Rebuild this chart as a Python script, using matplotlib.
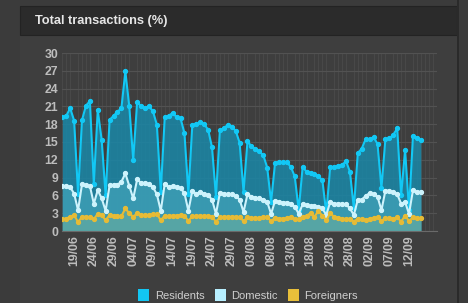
import numpy as np
import matplotlib
matplotlib.use("Agg")
import matplotlib.pyplot as plt
from matplotlib.patches import Rectangle

# daily shares, 16/06 .. 15/09
residents = [19.2, 19.4, 20.7, 18.6, 6.3, 18.7, 21.1, 21.9, 8.0, 20.4,
             15.3, 6.0, 18.7, 19.4, 20.1, 20.7, 26.9, 21.0, 12.0, 21.8,
             21.0, 20.7, 21.0, 20.2, 17.9, 6.6, 19.2, 19.4, 19.9, 19.2,
             19.0, 16.5, 6.3, 17.9, 18.0, 18.3, 18.0, 17.1, 14.1, 5.8,
             17.0, 17.3, 17.9, 17.6, 16.9, 14.9, 6.6, 15.1, 14.3, 13.8,
             13.4, 12.8, 10.7, 4.9, 11.5, 11.6, 11.6, 11.6, 10.8, 9.2,
             3.5, 10.8, 10.0, 9.8, 9.6, 9.2, 8.6, 3.0, 10.8, 10.8,
             11.0, 11.1, 11.8, 10.0, 3.8, 13.1, 13.9, 15.5, 15.5, 15.8,
             14.7, 7.2, 15.5, 15.6, 16.2, 17.3, 6.0, 13.7, 3.5, 16.0,
             15.7, 15.3]
domestic = [7.6, 7.6, 7.4, 6.3, 3.5, 7.9, 7.7, 7.6, 4.6, 6.9,
            5.5, 3.4, 7.7, 7.8, 7.8, 8.3, 9.7, 7.6, 5.5, 8.7,
            8.1, 8.1, 7.9, 7.4, 6.2, 3.4, 8.0, 7.4, 7.6, 7.4,
            7.2, 6.4, 3.4, 6.8, 6.2, 6.6, 6.3, 6.0, 5.3, 2.9,
            6.4, 6.3, 6.2, 6.2, 5.9, 5.3, 3.2, 6.2, 5.8, 5.6,
            5.5, 5.3, 4.9, 2.9, 5.1, 4.9, 4.8, 4.8, 4.6, 4.1,
            2.9, 4.5, 4.3, 4.2, 4.2, 4.1, 3.8, 2.7, 4.9, 4.6,
            4.6, 4.6, 4.5, 3.8, 2.7, 5.3, 5.3, 5.9, 6.4, 6.2,
            5.8, 3.5, 6.8, 6.8, 6.6, 6.2, 4.6, 4.9, 2.9, 6.9,
            6.6, 6.6]
foreigners = [2.0, 2.1, 2.4, 2.7, 1.5, 2.4, 2.4, 2.3, 2.0, 2.9,
              2.7, 1.8, 2.7, 2.5, 2.5, 2.5, 3.8, 3.0, 2.4, 3.0,
              2.7, 2.7, 2.7, 2.8, 2.9, 1.8, 2.6, 2.5, 2.6, 2.6,
              2.7, 2.6, 1.7, 2.5, 2.5, 2.6, 2.5, 2.6, 2.4, 1.6,
              2.3, 2.4, 2.4, 2.4, 2.4, 2.3, 1.7, 2.3, 2.2, 2.2,
              2.2, 2.3, 2.3, 1.7, 2.2, 2.1, 2.1, 2.2, 2.3, 2.0,
              2.0, 2.4, 2.6, 3.0, 2.4, 3.4, 2.6, 1.8, 3.0, 2.4,
              2.2, 2.1, 2.0, 2.1, 1.6, 2.1, 2.0, 1.9, 2.1, 2.2,
              2.3, 1.7, 2.2, 2.2, 2.1, 2.3, 1.6, 2.6, 1.7, 2.3,
              2.2, 2.2]
tick_labels = ["19/06", "24/06", "29/06", "04/07", "09/07", "14/07",
               "19/07", "24/07", "29/07", "03/08", "08/08", "13/08",
               "18/08", "23/08", "28/08", "02/09", "07/09", "12/09"]
series_names = ["Residents", "Domestic", "Foreigners"]

W, H = 468, 303
fig = plt.figure(figsize=(W / 100, H / 100), dpi=100)
fig.patch.set_facecolor("#3b3b3b")

# panel body, title bar
fig.patches.append(Rectangle((20 / W, 0), (457 - 20) / W, 1 - 35 / H,
                             transform=fig.transFigure, facecolor="#3e3e3e",
                             edgecolor="none", zorder=0))
fig.patches.append(Rectangle((20 / W, 1 - 35 / H), (457 - 20) / W, 29 / H,
                             transform=fig.transFigure, facecolor="#2b2b2b",
                             edgecolor="#232323", lw=0.8, zorder=0))
fig.patches.append(Rectangle((457 / W, 0), 2 / W, 1,
                             transform=fig.transFigure, facecolor="#2a2a2a",
                             edgecolor="none", zorder=0))
fig.text(35 / W, 1 - 21 / H, "Total transactions (%)", color="#e6e6e6",
         fontsize=9.2, fontweight="bold", va="center", family="Liberation Sans")

ax = fig.add_axes([62.3 / W, 72 / H, (437 - 62.3) / W, (231 - 53) / H])
ax.set_zorder(2)
ax.set_facecolor("none")
x = np.arange(len(residents))

fill_cols = ["#1a88a8", "#3d9eb5", "#5ca8a4"]
line_cols = ["#12c8f5", "#cdf3fc", "#e6bb36"]
for vals, fc, lc, name in zip([residents, domestic, foreigners], fill_cols,
                              line_cols, series_names):
    ax.fill_between(x, 0, vals, color=fc, alpha=0.85, lw=0)
    ax.plot(x, vals, color=lc, lw=1.5, marker="o", ms=2.8, mec=lc, label=name)

ax.set_xlim(0, 95.1)
ax.set_ylim(0, 30)
ax.set_yticks(range(0, 31, 3))
ax.set_xticks(np.arange(3, 3 + 5 * len(tick_labels), 5))
ax.set_xticklabels(tick_labels, rotation=90)
ax.set_xticks(np.arange(0, 96), minor=True)
ax.grid(True, which="major", axis="y", color="#525252", lw=0.8)
ax.grid(True, which="minor", axis="x", color="#4b4b4b", lw=0.6)
ax.set_axisbelow(True)
for s in ["top", "right", "left"]:
    ax.spines[s].set_visible(False)
ax.spines["bottom"].set_color("#6a6a6a")
ax.tick_params(which="both", length=0, colors="#c8c8c8", labelsize=8.8, pad=3)
for lab in ax.get_xticklabels() + ax.get_yticklabels():
    lab.set_family("Liberation Sans")
    lab.set_fontweight("bold")
    lab.set_color("#bdbdbd")

handles = [Rectangle((0, 0), 1, 1, facecolor=c, edgecolor="none") for c in
           ["#12c6f3", "#b7efff", "#e8bf3a"]]
leg = fig.legend(handles, series_names, loc="center", ncol=3,
                 bbox_to_anchor=(0.53, 1 - 295 / H), frameon=False,
                 handlelength=1.0, handleheight=1.3,
                 handletextpad=0.5, columnspacing=0.9,
                 prop={"family": "Liberation Sans", "size": 8})
for t in leg.get_texts():
    t.set_color("#cfcfcf")

fig.savefig("out.png", dpi=100, facecolor=fig.get_facecolor())
